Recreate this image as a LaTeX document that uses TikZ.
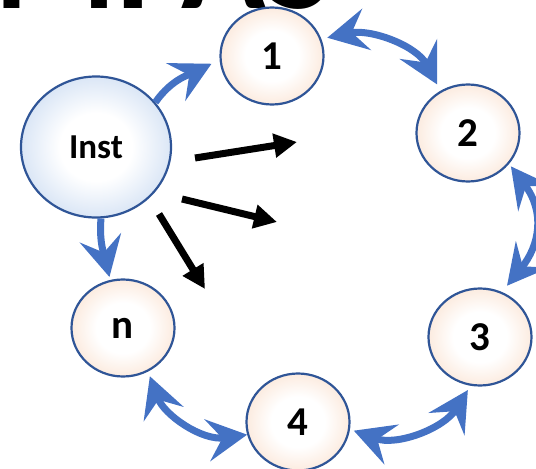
\documentclass[tikz,border=0pt]{standalone}
\usepackage{fontspec}
\setmainfont{Carlito}
\usetikzlibrary{arrows.meta,shapes.geometric}
\definecolor{ringline}{RGB}{47,85,151}
\definecolor{arrowblue}{RGB}{68,114,196}
\definecolor{instedge}{RGB}{148,182,228}
\definecolor{peachedge}{RGB}{245,194,158}
\pgfdeclareradialshading{instglow}{\pgfpoint{0bp}{0bp}}{color(0bp)=(white); color(12bp)=(white); color(50bp)=(instedge); color(100bp)=(instedge)}
\pgfdeclareradialshading{peachglow}{\pgfpoint{0bp}{0bp}}{color(0bp)=(white); color(13bp)=(white); color(50bp)=(peachedge); color(100bp)=(peachedge)}
\tikzset{
  ringnode/.style={ellipse, draw=ringline, line width=2.2pt, shading=peachglow, inner sep=0pt,
    minimum width=103pt, minimum height=97pt, font=\fontsize{41}{41}\selectfont\bfseries},
  instnode/.style={ellipse, draw=ringline, line width=2.2pt, shading=instglow, inner sep=0pt,
    minimum width=150pt, minimum height=141pt, font=\fontsize{35}{35}\selectfont\bfseries},
  blink/.style={draw=arrowblue, line width=7pt, -{Stealth[length=40pt,width=42pt,inset=15pt]}},
  biblink/.style={draw=arrowblue, line width=7pt, {Stealth[length=40pt,width=42pt,inset=15pt]}-{Stealth[length=40pt,width=42pt,inset=15pt]}},
  blkarrow/.style={draw=black, line width=7pt, -{Triangle[length=23pt,width=23pt]}},
  titletext/.style={anchor=base west, inner sep=0pt, font=\fontsize{140}{140}\selectfont\bfseries}
}
\begin{document}
\begin{tikzpicture}[x=1pt,y=1pt]
\useasboundingbox (0,0) rectangle (536,-469);
\node[titletext] (title) at (-6,-8) {MPAS};
\node[instnode] (inst) at (96,-147) {Inst};
\node[ringnode] (one) at (272,-56) {1};
\node[ringnode] (two) at (468,-133) {2};
\node[ringnode] (three) at (480,-337) {3};
\node[ringnode] (four) at (298,-422) {4};
\node[ringnode] (nn) at (123,-328) {n};
% blue connectors
\draw[blink, shorten >=9pt] (inst.37) to[out=55,in=207] (one.184);
\draw[blink, shorten >=3pt] (inst.-86) to[out=-95,in=103] (nn.105);
\draw[biblink, shorten <=6pt, shorten >=7pt] (one.19) to[out=12,in=118] (two.123);
\draw[biblink, shorten <=3pt, shorten >=8pt, looseness=1.2] (two.-37) to[out=-53,in=51] (three.64);
\draw[biblink, shorten <=5pt, shorten >=4pt] (three.-101) to[out=-122,in=-20] (four.-8);
\draw[biblink, shorten <=5pt] (nn.-60) to[out=-70,in=188] (four.194);
% black arrows
\coordinate (a1) at (195,-158); \coordinate (a2) at (297,-142);
\coordinate (b1) at (182,-199); \coordinate (b2) at (277,-222);
\coordinate (c1) at (159,-214); \coordinate (c2) at (205,-289);
\draw[blkarrow] (a1) -- (a2);
\draw[blkarrow] (b1) -- (b2);
\draw[blkarrow] (c1) -- (c2);
\end{tikzpicture}
\end{document}
